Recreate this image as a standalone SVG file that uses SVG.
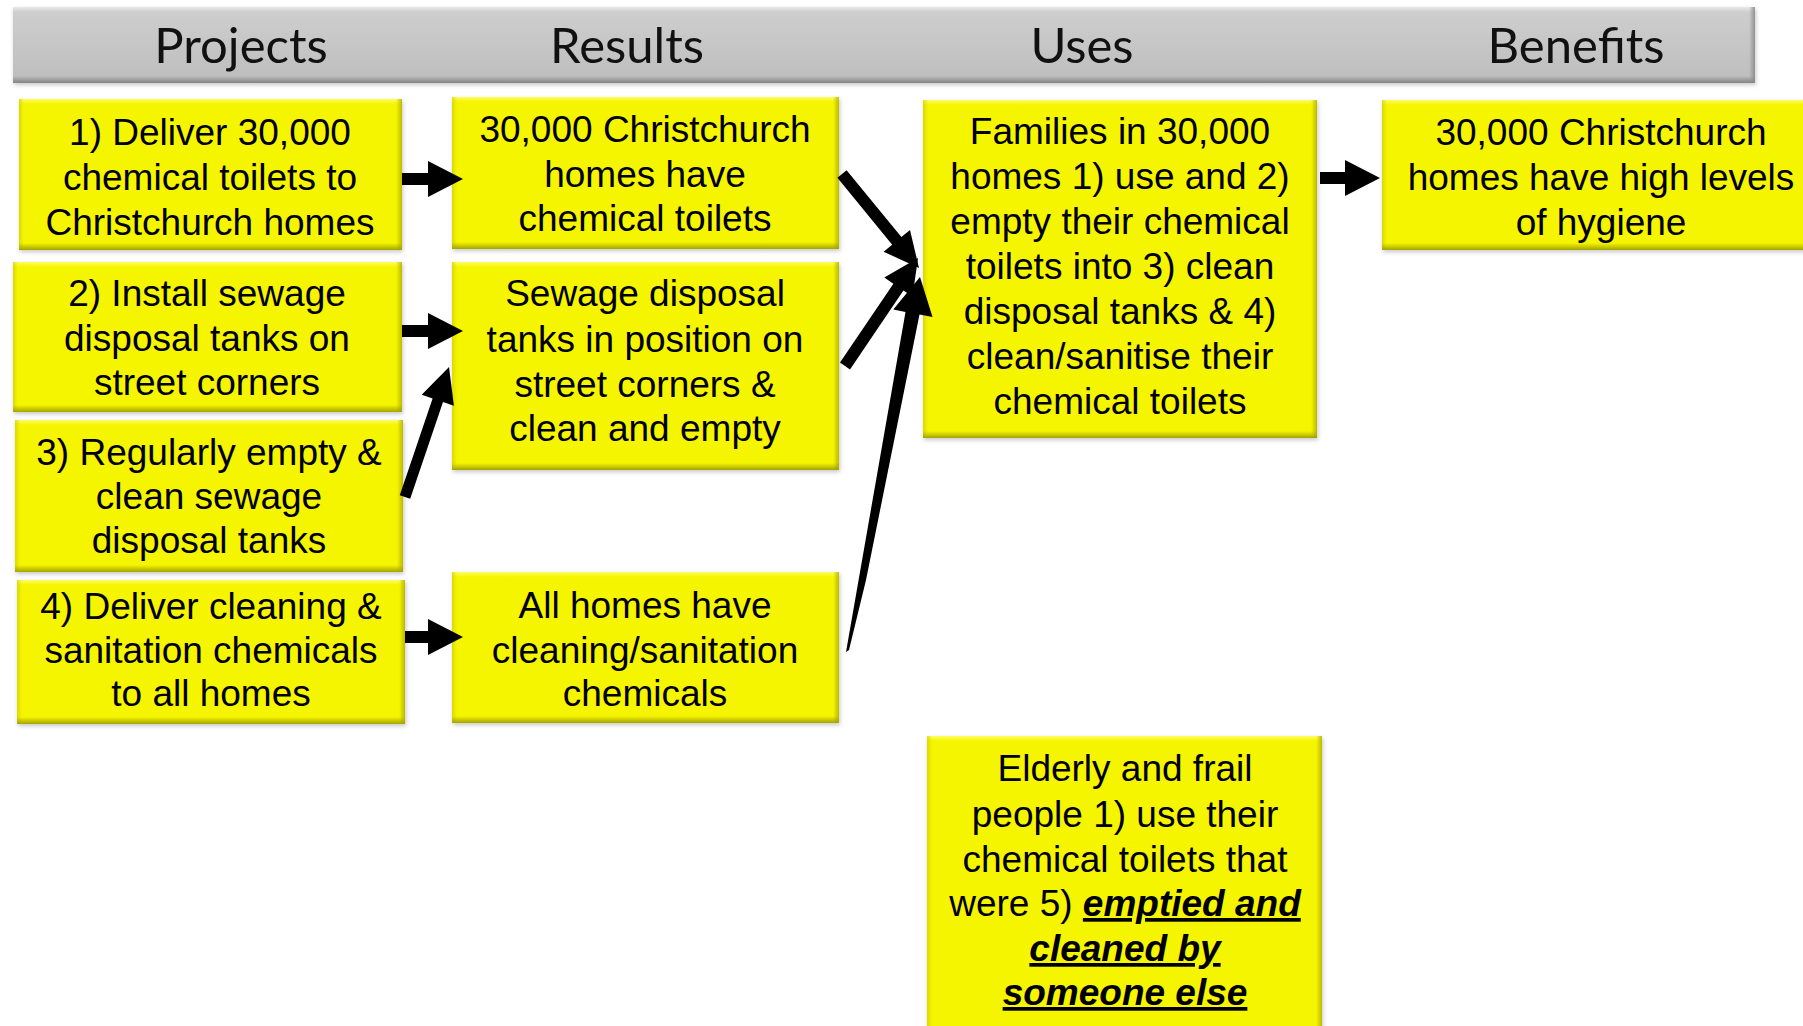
<svg xmlns="http://www.w3.org/2000/svg" width="1803" height="1026" viewBox="0 0 1803 1026">
  <defs>
    <style>
      .box{fill:#f5f500}
      .bar{fill:url(#barFill)}
      .t{font-family:'Liberation Sans',Arial,sans-serif;font-size:37px;fill:#000;text-anchor:middle}
      .h{font-family:Lato,'Liberation Sans',sans-serif;font-size:49px;fill:#111;text-anchor:middle}
      .em{font-weight:bold;font-style:italic;text-decoration:underline}
      .arrow{fill:#000}
      .bT{fill:url(#bevT)} .bB{fill:url(#bevB)} .bL{fill:url(#bevL)} .bR{fill:url(#bevR)}
      .gT{fill:url(#gevT)} .gB{fill:url(#gevB)} .gR{fill:url(#gevR)}
    </style>
    <filter id="soft" x="-5%" y="-5%" width="110%" height="115%">
      <feDropShadow dx="1" dy="2" stdDeviation="2" flood-color="#000" flood-opacity="0.22"/>
    </filter>
    <linearGradient id="barFill" x1="0" y1="0" x2="0" y2="1">
      <stop offset="0" stop-color="#cfcfcf"/>
      <stop offset="1" stop-color="#bdbdbd"/>
    </linearGradient>
    <!-- yellow bevel edges -->
    <linearGradient id="bevT" x1="0" y1="0" x2="0" y2="1">
      <stop offset="0" stop-color="#ffff70" stop-opacity="0.9"/>
      <stop offset="1" stop-color="#ffff70" stop-opacity="0"/>
    </linearGradient>
    <linearGradient id="bevB" x1="0" y1="0" x2="0" y2="1">
      <stop offset="0" stop-color="#a0a000" stop-opacity="0"/>
      <stop offset="1" stop-color="#a0a000" stop-opacity="0.95"/>
    </linearGradient>
    <linearGradient id="bevL" x1="0" y1="0" x2="1" y2="0">
      <stop offset="0" stop-color="#c8c800" stop-opacity="0.6"/>
      <stop offset="1" stop-color="#c8c800" stop-opacity="0"/>
    </linearGradient>
    <linearGradient id="bevR" x1="0" y1="0" x2="1" y2="0">
      <stop offset="0" stop-color="#b0b000" stop-opacity="0"/>
      <stop offset="1" stop-color="#b0b000" stop-opacity="0.85"/>
    </linearGradient>
    <!-- grey bevel edges for the column header -->
    <linearGradient id="gevT" x1="0" y1="0" x2="0" y2="1">
      <stop offset="0" stop-color="#ececec" stop-opacity="0.9"/>
      <stop offset="1" stop-color="#ececec" stop-opacity="0"/>
    </linearGradient>
    <linearGradient id="gevB" x1="0" y1="0" x2="0" y2="1">
      <stop offset="0" stop-color="#808080" stop-opacity="0"/>
      <stop offset="1" stop-color="#808080" stop-opacity="0.95"/>
    </linearGradient>
    <linearGradient id="gevR" x1="0" y1="0" x2="1" y2="0">
      <stop offset="0" stop-color="#8a8a8a" stop-opacity="0"/>
      <stop offset="1" stop-color="#8a8a8a" stop-opacity="0.9"/>
    </linearGradient>
  </defs>

  <rect width="1803" height="1026" fill="#fff"/>

  <!-- column header band -->
  <g id="header">
    <rect class="bar" x="13" y="7" width="1742" height="76" filter="url(#soft)"/>
    <rect class="gT" x="13" y="7" width="1742" height="5"/>
    <rect class="gB" x="13" y="76" width="1742" height="7"/>
    <rect class="gR" x="1749" y="7" width="6" height="76"/>
    <text class="h" x="241" y="63">Projects</text>
    <text class="h" x="627" y="63">Results</text>
    <text class="h" x="1082" y="63">Uses</text>
    <text class="h" x="1576" y="63">Benefits</text>
  </g>

  <!-- Projects -->
  <g id="p1">
    <rect class="box" x="19" y="99" width="383" height="151" filter="url(#soft)"/>
    <rect class="bT" x="19" y="99" width="383" height="5"/>
    <rect class="bL" x="19" y="99" width="5" height="151"/>
    <rect class="bR" x="396" y="99" width="6" height="151"/>
    <rect class="bB" x="19" y="243" width="383" height="7"/>
    <text class="t" x="210" y="145">1) Deliver 30,000</text>
    <text class="t" x="210" y="190">chemical toilets to</text>
    <text class="t" x="210" y="235">Christchurch homes</text>
  </g>
  <g id="p2">
    <rect class="box" x="13" y="262" width="389" height="150" filter="url(#soft)"/>
    <rect class="bT" x="13" y="262" width="389" height="5"/>
    <rect class="bL" x="13" y="262" width="5" height="150"/>
    <rect class="bR" x="396" y="262" width="6" height="150"/>
    <rect class="bB" x="13" y="405" width="389" height="7"/>
    <text class="t" x="207" y="306">2) Install sewage</text>
    <text class="t" x="207" y="351">disposal tanks on</text>
    <text class="t" x="207" y="395">street corners</text>
  </g>
  <g id="p3">
    <rect class="box" x="15" y="420" width="388" height="152" filter="url(#soft)"/>
    <rect class="bT" x="15" y="420" width="388" height="5"/>
    <rect class="bL" x="15" y="420" width="5" height="152"/>
    <rect class="bR" x="397" y="420" width="6" height="152"/>
    <rect class="bB" x="15" y="565" width="388" height="7"/>
    <text class="t" x="209" y="465">3) Regularly empty &amp;</text>
    <text class="t" x="209" y="509">clean sewage</text>
    <text class="t" x="209" y="553">disposal tanks</text>
  </g>
  <g id="p4">
    <rect class="box" x="17" y="580" width="388" height="144" filter="url(#soft)"/>
    <rect class="bT" x="17" y="580" width="388" height="5"/>
    <rect class="bL" x="17" y="580" width="5" height="144"/>
    <rect class="bR" x="399" y="580" width="6" height="144"/>
    <rect class="bB" x="17" y="717" width="388" height="7"/>
    <text class="t" x="211" y="619">4) Deliver cleaning &amp;</text>
    <text class="t" x="211" y="663">sanitation chemicals</text>
    <text class="t" x="211" y="706">to all homes</text>
  </g>

  <!-- Results -->
  <g id="r1">
    <rect class="box" x="452" y="97" width="387" height="152" filter="url(#soft)"/>
    <rect class="bT" x="452" y="97" width="387" height="5"/>
    <rect class="bL" x="452" y="97" width="5" height="152"/>
    <rect class="bR" x="833" y="97" width="6" height="152"/>
    <rect class="bB" x="452" y="242" width="387" height="7"/>
    <text class="t" x="645" y="142">30,000 Christchurch</text>
    <text class="t" x="645" y="187">homes have</text>
    <text class="t" x="645" y="231">chemical toilets</text>
  </g>
  <g id="r2">
    <rect class="box" x="452" y="262" width="387" height="208" filter="url(#soft)"/>
    <rect class="bT" x="452" y="262" width="387" height="5"/>
    <rect class="bL" x="452" y="262" width="5" height="208"/>
    <rect class="bR" x="833" y="262" width="6" height="208"/>
    <rect class="bB" x="452" y="463" width="387" height="7"/>
    <text class="t" x="645" y="306">Sewage disposal</text>
    <text class="t" x="645" y="352">tanks in position on</text>
    <text class="t" x="645" y="397">street corners &amp;</text>
    <text class="t" x="645" y="441">clean and empty</text>
  </g>
  <g id="r3">
    <rect class="box" x="452" y="572" width="387" height="151" filter="url(#soft)"/>
    <rect class="bT" x="452" y="572" width="387" height="5"/>
    <rect class="bL" x="452" y="572" width="5" height="151"/>
    <rect class="bR" x="833" y="572" width="6" height="151"/>
    <rect class="bB" x="452" y="716" width="387" height="7"/>
    <text class="t" x="645" y="618">All homes have</text>
    <text class="t" x="645" y="663">cleaning/sanitation</text>
    <text class="t" x="645" y="706">chemicals</text>
  </g>

  <!-- Uses -->
  <g id="u1">
    <rect class="box" x="923" y="100" width="394" height="338" filter="url(#soft)"/>
    <rect class="bT" x="923" y="100" width="394" height="5"/>
    <rect class="bL" x="923" y="100" width="5" height="338"/>
    <rect class="bR" x="1311" y="100" width="6" height="338"/>
    <rect class="bB" x="923" y="431" width="394" height="7"/>
    <text class="t" x="1120" y="144">Families in 30,000</text>
    <text class="t" x="1120" y="189">homes 1) use and 2)</text>
    <text class="t" x="1120" y="234">empty their chemical</text>
    <text class="t" x="1120" y="279">toilets into 3) clean</text>
    <text class="t" x="1120" y="324">disposal tanks &amp; 4)</text>
    <text class="t" x="1120" y="369">clean/sanitise their</text>
    <text class="t" x="1120" y="414">chemical toilets</text>
  </g>
  <g id="u2">
    <rect class="box" x="927" y="736" width="395" height="300" filter="url(#soft)"/>
    <rect class="bT" x="927" y="736" width="395" height="5"/>
    <rect class="bL" x="927" y="736" width="5" height="300"/>
    <rect class="bR" x="1316" y="736" width="6" height="300"/>
    <text class="t" x="1125" y="781">Elderly and frail</text>
    <text class="t" x="1125" y="827">people 1) use their</text>
    <text class="t" x="1125" y="872">chemical toilets that</text>
    <text class="t" x="1125" y="916">were 5) <tspan class="em">emptied and</tspan></text>
    <text class="t em" x="1125" y="961">cleaned by</text>
    <text class="t em" x="1125" y="1005">someone else</text>
  </g>

  <!-- Benefits -->
  <g id="b1">
    <rect class="box" x="1382" y="100" width="440" height="150" filter="url(#soft)"/>
    <rect class="bT" x="1382" y="100" width="440" height="5"/>
    <rect class="bL" x="1382" y="100" width="5" height="150"/>
    <rect class="bB" x="1382" y="243" width="440" height="7"/>
    <text class="t" x="1601" y="145">30,000 Christchurch</text>
    <text class="t" x="1601" y="190">homes have high levels</text>
    <text class="t" x="1601" y="235">of hygiene</text>
  </g>

  <!-- block arrows between the columns -->
  <g id="connectors" class="arrow">
    <polygon points="402,173 428,173 428,161 463,179 428,197 428,185 402,185"/>
    <polygon points="402,325 428,325 428,313 463,331 428,349 428,337 402,337"/>
    <polygon points="405,631 428,631 428,619 463,637 428,655 428,643 405,643"/>
    <polygon points="399.8,495.2 432.6,398.4 421.7,394.7 449,367 453.9,405.7 443,402 410.2,498.8"/>
    <polygon points="846.6,170.2 901.4,237.1 910,230.1 919,268 883.6,251.7 892.2,244.7 837.4,177.8"/>
    <polygon points="840,362.6 893.4,283.7 884.3,277.6 918,258 912.5,296.6 903.4,290.5 850,369.4"/>
    <polygon points="846,652 905.5,312 893.3,309.5 920,277 932.5,317.1 919.5,314.6 866,580 849,650"/>
    <polygon points="1320,172 1345,172 1345,160 1380,178 1345,196 1345,184 1320,184"/>
  </g>
</svg>
